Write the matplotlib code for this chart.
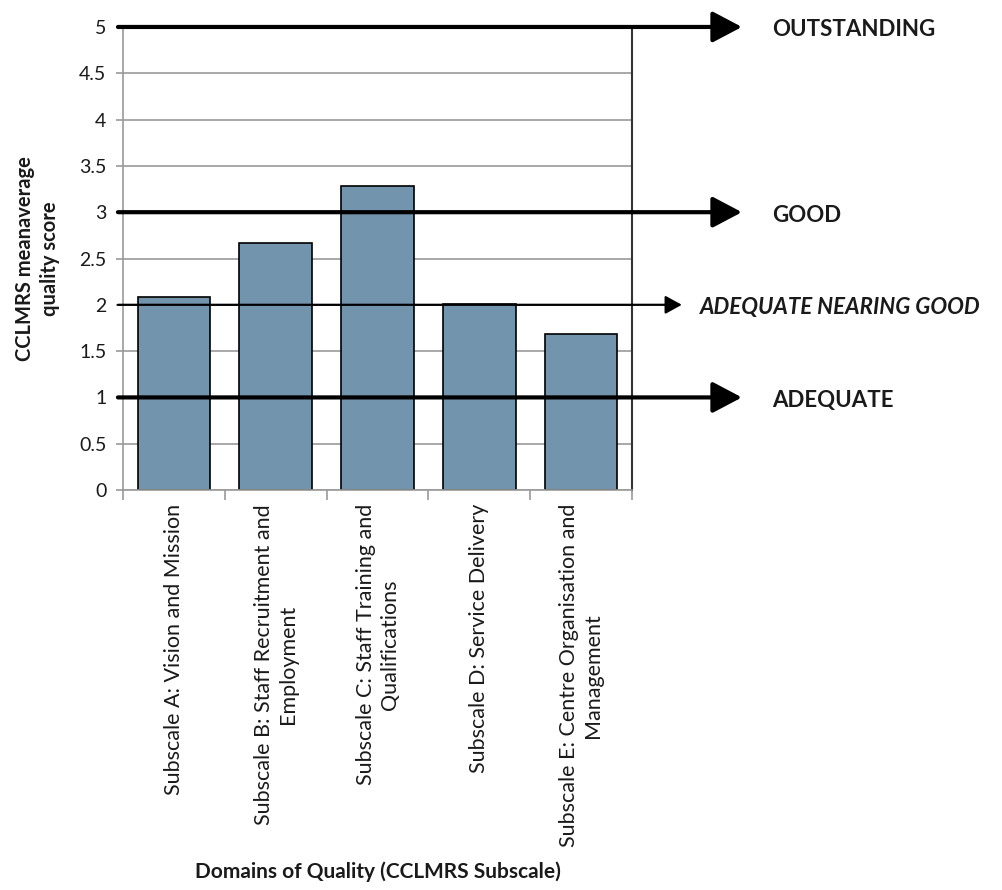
import matplotlib
matplotlib.use("Agg")
import matplotlib.pyplot as plt
import numpy as np
from matplotlib.ticker import FixedLocator
from matplotlib.transforms import offset_copy

plt.rcParams['font.family'] = ['Lato', 'DejaVu Sans']

# Subscale scores
categories = [
    "Subscale A: Vision and Mission",
    "Subscale B: Staff Recruitment and\nEmployment",
    "Subscale C: Staff Training and\nQualifications",
    "Subscale D: Service Delivery",
    "Subscale E: Centre Organisation and\nManagement",
]
scores = [2.08, 2.67, 3.28, 2.01, 1.69]

# Quality benchmarks
levels = [5, 3, 2, 1]
level_labels = ["OUTSTANDING", "GOOD", "ADEQUATE NEARING GOOD", "ADEQUATE"]
level_italic = [False, False, True, False]

fig = plt.figure(figsize=(10.02, 8.90), dpi=100)
ax = fig.add_axes([0.1228, 0.4494, 0.5079, 0.5203])

x = np.arange(len(categories))
ax.bar(x, scores, width=0.714, color="#7295ad", edgecolor="black", linewidth=1.2, zorder=2)

yticks = np.arange(0, 5.01, 0.5)
ax.set_xlim(-0.5, len(categories) - 0.5)
ax.set_ylim(0, 5)
ax.yaxis.set_major_locator(FixedLocator(yticks))
ax.set_yticklabels([("%g" % v) for v in yticks])
ax.grid(axis="y", color="#9a9a9a", linewidth=1.2, zorder=0)
ax.set_axisbelow(True)

ax.set_xticks(x)
ax.set_xticklabels(categories, rotation=90, ha="center", va="top",
                   multialignment="center", fontsize=15.5, color="#1a1a1a",
                   linespacing=1.25)
ax.tick_params(axis="x", length=0, pad=10)
ax.set_xticks(np.arange(-0.5, len(categories)), minor=True)
ax.tick_params(axis="x", which="minor", length=7, width=1.2, color="#9a9a9a")
ax.tick_params(axis="y", length=5, width=1.2, color="#9a9a9a", labelsize=14,
               labelcolor="#1a1a1a", pad=7)

for side in ("left", "bottom"):
    ax.spines[side].set_color("#9a9a9a")
    ax.spines[side].set_linewidth(1.2)
ax.spines["top"].set_visible(False)
ax.spines["right"].set_color("#333333")
ax.spines["right"].set_linewidth(1.5)

ax.set_ylabel("CCLMRS meanaverage\nquality score", fontsize=14.5, fontweight="bold",
              labelpad=14, color="#1a1a1a", linespacing=1.3)
ax.set_xlabel("Domains of Quality (CCLMRS Subscale)", fontsize=15,
              fontweight="bold", labelpad=10, color="#1a1a1a")

# Benchmark arrows
trans = ax.get_yaxis_transform()
text_trans = offset_copy(trans, fig=fig, x=0, y=-3, units="dots")
for lvl, lab, ital in zip(levels, level_labels, level_italic):
    if ital:
        tip, lw, hl, hw, tx = 1.098, 1.6, 10, 5.5, 1.133
    else:
        tip, lw, hl, hw, tx = 1.216, 3.0, 18, 9.5, 1.275
    ax.annotate("", xy=(tip, lvl), xytext=(-0.01, lvl), xycoords=trans,
                textcoords=trans, annotation_clip=False,
                arrowprops=dict(arrowstyle="-|>,head_length=%g,head_width=%g" % (hl / 10, hw / 10),
                                mutation_scale=10, lw=lw, color="black",
                                shrinkA=0, shrinkB=0), zorder=5)
    ax.text(tx, lvl, lab, transform=text_trans, ha="left", va="center",
            fontsize=16, fontweight="bold", style="italic" if ital else "normal",
            color="#1a1a1a", clip_on=False)

fig.savefig("out.png", dpi=100, facecolor="white")
